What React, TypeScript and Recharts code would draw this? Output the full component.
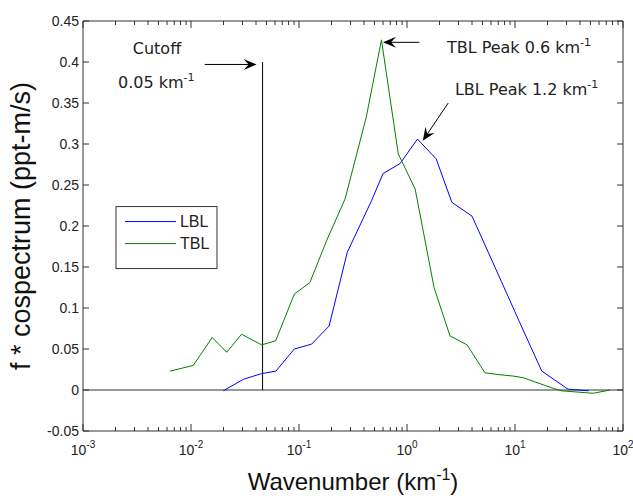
import React from "react";
import { LineChart, Line, XAxis, YAxis, ReferenceLine, ReferenceDot } from "recharts";

// wavenumber (km^-1) and f*cospectrum (ppt-m/s)
const LBL_K = [0.0199, 0.0305, 0.045, 0.061, 0.0905, 0.131, 0.19, 0.28, 0.47, 0.6, 0.86, 1.25, 1.86, 2.6, 4.0, 7.5, 11, 17.7, 31, 48];
const LBL_F = [-0.001, 0.013, 0.02, 0.023, 0.05, 0.056, 0.078, 0.168, 0.231, 0.264, 0.276, 0.306, 0.282, 0.229, 0.212, 0.132, 0.083, 0.023, 0.001, -0.001];

const TBL_K = [0.0064, 0.0105, 0.0157, 0.0214, 0.0294, 0.0451, 0.0608, 0.0905, 0.126, 0.18, 0.267, 0.42, 0.58, 0.83, 1.19, 1.78, 2.5, 3.6, 5.27, 6.8, 9.6, 11.9, 22.6, 27, 53, 76];
const TBL_F = [0.023, 0.03, 0.064, 0.046, 0.068, 0.055, 0.06, 0.117, 0.131, 0.182, 0.233, 0.333, 0.427, 0.288, 0.245, 0.125, 0.066, 0.055, 0.021, 0.019, 0.017, 0.015, 0.002, -0.001, -0.004, 0];

const X_DECADES = [0.001, 0.01, 0.1, 1, 10, 100];
const Y_TICKS = [-0.05, 0, 0.05, 0.1, 0.15, 0.2, 0.25, 0.3, 0.35, 0.4, 0.45];

const CUTOFF_K = 0.046;
const CUTOFF_TOP = 0.4;

// annotation anchors [k, f]
const CUTOFF_ARROW = [[0.0134, 0.397], [0.0405, 0.397]];
const TBL_ARROW = [[1.3, 0.424], [0.6, 0.424]];
const LBL_ARROW = [[2.41, 0.35], [1.4, 0.304]];

const W = 633;
const H = 496;
const AX = "#333";
const BLUE = "#0000ff";
const GREEN = "#008000";
const TICK_FONT = "'Liberation Sans', Arial, sans-serif";
const NOTE_FONT = "'DejaVu Sans', Verdana, sans-serif";

const lblData = LBL_K.map((k, i) => ({ k, f: LBL_F[i] }));
const tblData = TBL_K.map((k, i) => ({ k, f: TBL_F[i] }));

const xTicks: number[] = [];
X_DECADES.forEach((d, i) => {
  if (i === X_DECADES.length - 1) { xTicks.push(d); return; }
  for (let m = 1; m <= 9; m++) xTicks.push(+(m * d).toPrecision(3));
});

const isMajor = (v: number) => Math.abs(Math.log10(v) - Math.round(Math.log10(v))) < 1e-6;
const fmtY = (v: number) => (v === 0 ? "0" : String(+v.toFixed(2)));

const BottomTick = (p: any) => {
  const { x, y, payload } = p;
  const v = payload.value;
  const major = isMajor(v);
  return (
    <g>
      <line x1={x} x2={x} y1={y} y2={y - (major ? 7 : 4)} stroke={AX} />
      {major && (
        <text x={x} y={y + 24} textAnchor="middle" fontFamily={TICK_FONT} fontSize={14} fill="#222">
          10<tspan dy={-7} fontSize={10}>{Math.round(Math.log10(v))}</tspan>
        </text>
      )}
    </g>
  );
};

const TopTick = (p: any) => {
  const { x, y, payload } = p;
  const major = isMajor(payload.value);
  return <line x1={x} x2={x} y1={y} y2={y + (major ? 7 : 4)} stroke={AX} />;
};

const LeftTick = (p: any) => {
  const { x, y, payload } = p;
  return (
    <g>
      <line x1={x} x2={x + 6} y1={y} y2={y} stroke={AX} />
      <text x={x - 4} y={y} dy="0.35em" textAnchor="end" fontFamily={TICK_FONT} fontSize={14} fill="#222">
        {fmtY(payload.value)}
      </text>
    </g>
  );
};

const RightTick = (p: any) => {
  const { x, y } = p;
  return <line x1={x} x2={x - 6} y1={y} y2={y} stroke={AX} />;
};

const Arrow = (p: any) => {
  const { x1, y1, x2, y2 } = p;
  const a = Math.atan2(y2 - y1, x2 - x1);
  const L = 13, S = 5.5, B = 8;
  const c = Math.cos(a), s = Math.sin(a);
  const pt = (along: number, side: number) => `${x2 - along * c - side * s},${y2 - along * s + side * c}`;
  return (
    <g>
      <line x1={x1} y1={y1} x2={x2 - 6 * c} y2={y2 - 6 * s} stroke="#000" strokeWidth={1} />
      <polygon points={`${x2},${y2} ${pt(L, S)} ${pt(B, 0)} ${pt(L, -S)}`} fill="#000" />
    </g>
  );
};

const Note = ({ cx, cy, text, sup, anchor }: any) => (
  <text x={cx} y={cy} dy="0.35em" textAnchor={anchor || "start"} fontFamily={NOTE_FONT} fontSize={16} fill="#222">
    {text}
    {sup && <tspan dy={-7} fontSize={11}>{sup}</tspan>}
  </text>
);

const LegendBox = ({ cx, cy }: any) => (
  <g fontFamily={TICK_FONT} fontSize={16} fill="#222">
    <rect x={cx} y={cy} width={101} height={62} fill="#fff" stroke={AX} />
    <line x1={cx + 9} x2={cx + 60} y1={cy + 15} y2={cy + 15} stroke={BLUE} />
    <text x={cx + 64} y={cy + 15} dy="0.35em">LBL</text>
    <line x1={cx + 9} x2={cx + 60} y1={cy + 37} y2={cy + 37} stroke={GREEN} />
    <text x={cx + 64} y={cy + 37} dy="0.35em">TBL</text>
  </g>
);

const XLabel = (p: any) => {
  const vb = p.viewBox;
  return (
    <text x={vb.x + vb.width / 2} y={vb.y + 59} textAnchor="middle" fontFamily={TICK_FONT} fontSize={24} fill="#111">
      Wavenumber (km<tspan dy={-10} fontSize={16}>-1</tspan><tspan dy={10}>)</tspan>
    </text>
  );
};

const YLabel = (p: any) => {
  const vb = p.viewBox;
  const x = vb.x - 52;
  const y = vb.y + vb.height / 2;
  return (
    <text x={x} y={y} transform={`rotate(-90 ${x} ${y})`} textAnchor="middle" fontFamily={TICK_FONT} fontSize={27} fill="#111">
      f * cospectrum (ppt-m/s)
    </text>
  );
};

export default function App() {
  return (
    <div style={{ position: "absolute", left: 0, top: 0, width: W, height: H, background: "#fff" }}>
      <LineChart width={W} height={H} margin={{ top: 20, right: 9, bottom: 64, left: 82 }}>
        <XAxis
          type="number" dataKey="k" scale="log" domain={[0.001, 100]} allowDataOverflow
          ticks={xTicks} interval={0} height={1} tickSize={0} tickMargin={0} tickLine={false}
          tick={<BottomTick />} axisLine={{ stroke: AX }} label={{ content: (p: any) => <XLabel {...p} /> }}
        />
        <XAxis
          xAxisId="top" orientation="top" type="number" dataKey="k" scale="log" domain={[0.001, 100]} allowDataOverflow
          ticks={xTicks} interval={0} height={1} tickSize={0} tickMargin={0} tickLine={false}
          tick={<TopTick />} axisLine={{ stroke: AX }}
        />
        <YAxis
          type="number" domain={[-0.05, 0.45]} allowDataOverflow ticks={Y_TICKS} interval={0}
          width={1} tickSize={0} tickMargin={0} tickLine={false} tick={<LeftTick />} axisLine={{ stroke: AX }}
          label={{ content: (p: any) => <YLabel {...p} /> }}
        />
        <YAxis
          yAxisId="right" orientation="right" type="number" domain={[-0.05, 0.45]} allowDataOverflow ticks={Y_TICKS}
          interval={0} width={1} tickSize={0} tickMargin={0} tickLine={false} tick={<RightTick />} axisLine={{ stroke: AX }}
        />
        <ReferenceLine y={0} stroke={AX} />
        <ReferenceLine segment={[{ x: CUTOFF_K, y: 0 }, { x: CUTOFF_K, y: CUTOFF_TOP }]} stroke="#000" />
        <Line data={lblData} dataKey="f" stroke={BLUE} strokeWidth={1} dot={false} isAnimationActive={false} />
        <Line data={tblData} dataKey="f" stroke={GREEN} strokeWidth={1} dot={false} isAnimationActive={false} />
        <ReferenceLine segment={CUTOFF_ARROW.map(([x, y]) => ({ x, y }))} shape={(p: any) => <Arrow {...p} />} />
        <ReferenceLine segment={TBL_ARROW.map(([x, y]) => ({ x, y }))} shape={(p: any) => <Arrow {...p} />} />
        <ReferenceLine segment={LBL_ARROW.map(([x, y]) => ({ x, y }))} shape={(p: any) => <Arrow {...p} />} />
        <ReferenceDot x={0.00484} y={0.417} shape={(p: any) => <Note {...p} text="Cutoff" anchor="middle" />} />
        <ReferenceDot x={0.00211} y={0.375} shape={(p: any) => <Note {...p} text="0.05 km" sup="-1" />} />
        <ReferenceDot x={2.34} y={0.418} shape={(p: any) => <Note {...p} text="TBL Peak 0.6 km" sup="-1" />} />
        <ReferenceDot x={2.78} y={0.366} shape={(p: any) => <Note {...p} text="LBL Peak 1.2 km" sup="-1" />} />
        <ReferenceDot x={0.00202} y={0.2237} shape={(p: any) => <LegendBox {...p} />} />
      </LineChart>
    </div>
  );
}
